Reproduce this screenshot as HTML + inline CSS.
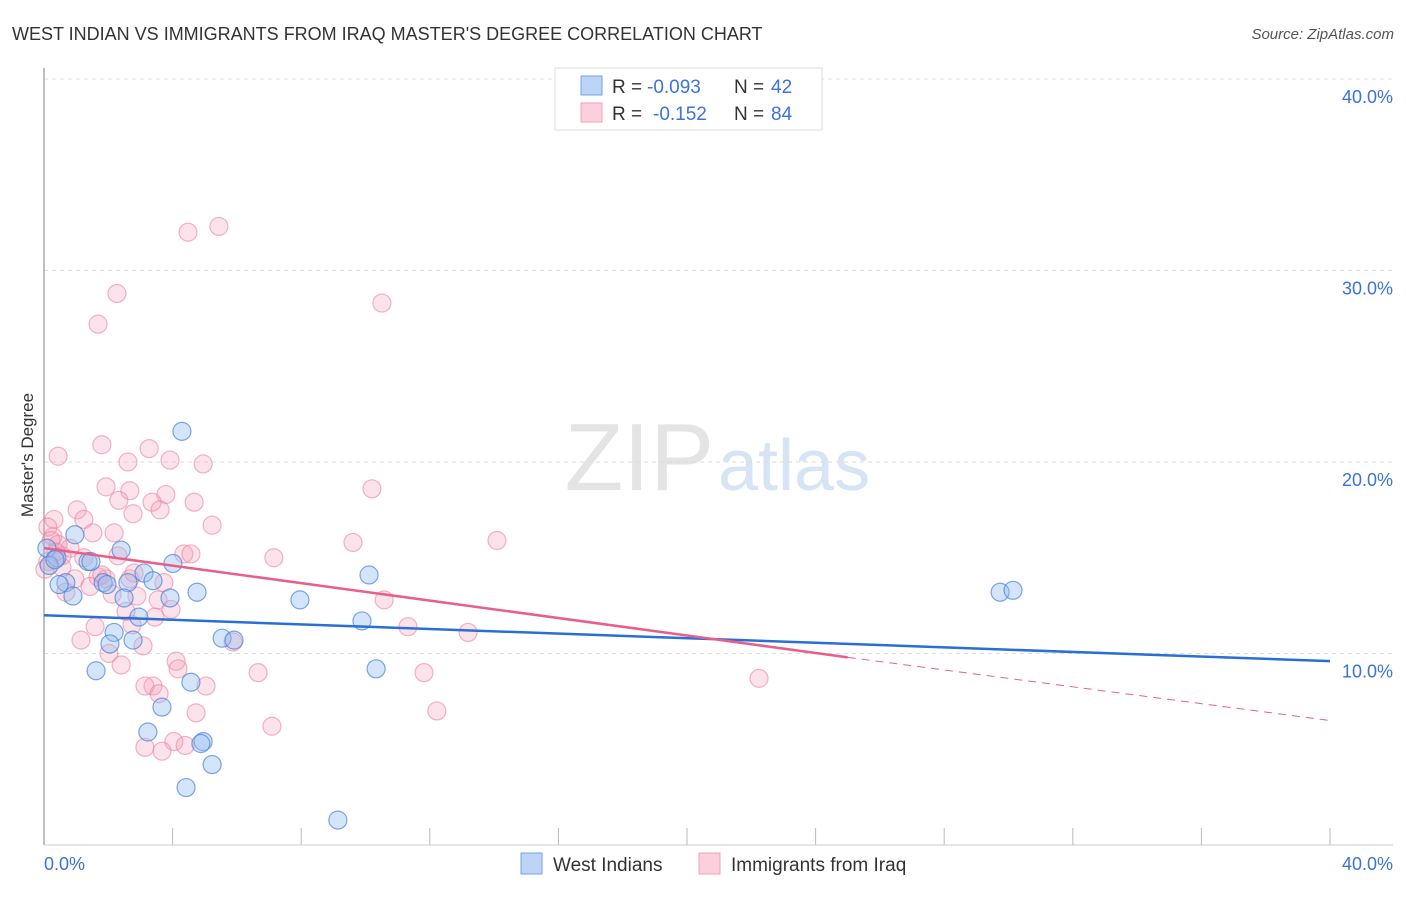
<!DOCTYPE html>
<html><head><meta charset="utf-8"><style>
body{margin:0;background:#fff;font-family:"Liberation Sans",sans-serif;}
svg text{font-family:"Liberation Sans",sans-serif;}
</style></head><body>
<svg width="1406" height="892" viewBox="0 0 1406 892">
<text x="12" y="40" font-size="18" fill="#333">WEST INDIAN VS IMMIGRANTS FROM IRAQ MASTER'S DEGREE CORRELATION CHART</text>
<text x="1394" y="39" font-size="15" fill="#555" text-anchor="end" font-style="italic">Source: ZipAtlas.com</text>
<text x="714" y="490" font-size="96" fill="#e4e4e4" text-anchor="end" font-family="Liberation Serif">ZIP</text>
<text x="718" y="490" font-size="72" fill="#d6e4f5">atlas</text>
<g id="grid"></g>
<line x1="44" y1="68" x2="44" y2="845" stroke="#aaa" stroke-width="1.5"/>
<line x1="44" y1="845" x2="1393" y2="845" stroke="#ccc" stroke-width="1"/>
<text transform="translate(33,455) rotate(-90)" font-size="17" fill="#333" text-anchor="middle">Master's Degree</text>
<text x="44" y="870" font-size="18" fill="#3b73d9">0.0%</text>
<text x="1393" y="870" font-size="18" fill="#3b73d9" text-anchor="end">40.0%</text>
<g id="marks"></g>
<g>
<rect x="555" y="68" width="267" height="62" fill="#fff" stroke="#ddd"/>
<rect x="581" y="76" width="21" height="19" fill="#bcd4f5" stroke="#7aa3e0"/>
<rect x="581" y="103" width="21" height="19" fill="#fbd0dc" stroke="#f0a0b8"/>
<text x="612" y="93" font-size="19" fill="#333">R =</text>
<text x="647" y="93" font-size="19" fill="#3b73d9">-0.093</text>
<text x="734" y="93" font-size="19" fill="#333">N =</text>
<text x="771" y="93" font-size="19" fill="#3b73d9">42</text>
<text x="612" y="120" font-size="19" fill="#333">R =</text>
<text x="653" y="120" font-size="19" fill="#3b73d9">-0.152</text>
<text x="734" y="120" font-size="19" fill="#333">N =</text>
<text x="771" y="120" font-size="19" fill="#3b73d9">84</text>
</g>
<g>
<rect x="521" y="853" width="21" height="21" fill="#bcd4f5" stroke="#7aa3e0"/>
<text x="553" y="871" font-size="19" fill="#333">West Indians</text>
<rect x="699" y="853" width="21" height="21" fill="#fbd0dc" stroke="#f0a0b8"/>
<text x="731" y="871" font-size="19" fill="#333">Immigrants from Iraq</text>
</g>
</svg>
<script>
const yTicks=[10,20,30,40];
const yTickLabels=["10.0%","20.0%","30.0%","40.0%"];
const blueX=[4.29,0.96,2.40,0.09,0.40,1.37,1.46,4.01,3.11,3.39,1.84,2.61,0.68,0.47,0.90,2.49,4.76,3.92,2.95,7.96,10.11,9.89,2.18,5.54,5.91,2.05,2.77,1.62,10.33,4.57,3.67,3.23,4.95,4.88,5.23,4.42,9.14,29.74,30.14,0.16,0.34,1.96];
const blueY=[21.6,16.2,15.4,15.5,15.0,14.8,14.8,14.7,14.2,13.8,13.7,13.7,13.7,13.6,13.0,12.9,13.2,12.9,11.9,12.8,14.1,11.7,11.1,10.8,10.7,10.5,10.7,9.1,9.2,8.5,7.2,5.9,5.4,5.3,4.2,3.0,1.3,13.2,13.3,14.6,14.9,13.6];
const pinkX=[4.48,5.44,2.27,1.68,10.51,0.44,1.80,3.27,3.92,2.61,4.95,10.20,1.93,2.67,3.79,2.33,3.36,4.67,1.03,3.61,2.77,0.31,1.24,5.23,2.18,1.52,0.12,0.28,0.44,0.81,14.09,9.61,4.35,4.57,7.15,2.30,1.24,0.56,0.12,0.03,0.56,0.96,1.68,1.93,2.67,1.80,2.80,3.73,1.43,2.12,2.89,0.68,3.55,10.58,2.55,3.45,3.95,1.59,2.74,11.32,13.19,1.15,3.08,2.02,5.88,4.11,4.17,2.40,6.66,11.82,3.39,3.14,3.58,5.04,4.73,12.22,22.24,7.09,4.04,4.39,3.14,3.67,0.22,0.37];
const pinkY=[32.0,32.3,28.8,27.2,28.3,20.3,20.9,20.7,20.1,20.0,19.9,18.6,18.7,18.5,18.3,18.0,17.9,17.9,17.5,17.5,17.3,17.0,17.0,16.7,16.3,16.3,16.6,16.1,15.7,15.5,15.9,15.8,15.2,15.2,15.0,15.1,15.0,15.1,14.8,14.4,14.5,13.9,14.0,13.9,13.9,14.1,14.2,13.7,13.5,13.1,13.0,13.2,12.8,12.8,12.2,11.9,12.3,11.4,11.5,11.4,11.1,10.7,10.4,10.0,10.6,9.6,9.2,9.4,9.0,9.0,8.3,8.3,7.9,8.3,6.9,7.0,8.7,6.2,5.4,5.2,5.1,4.9,15.9,15.3];
const blueTrend=[12.0,9.6];
const pinkTrend=[15.5,9.8,6.5];
const pinkSolidEnd=25;
const NS="http://www.w3.org/2000/svg";
const X=v=>44+v*(1286/40), Y=v=>845-v*(766/40);
function mk(t,a,p){const e=document.createElementNS(NS,t);for(const k in a)e.setAttribute(k,a[k]);p.appendChild(e);return e;}
const grid=document.getElementById('grid'), marks=document.getElementById('marks');
yTicks.forEach((t,i)=>{
 const l=mk('line',{x1:44,x2:1393,y1:Y(t),y2:Y(t),stroke:'#ddd','stroke-dasharray':'4,4'},grid);
 
 
 const tx=mk('text',{x:1393,y:Y(t)+24,'font-size':18,fill:'#3b73d9','text-anchor':'end'},grid);
 tx.textContent=yTickLabels[i];
 
 
});
for(let i=0;i<=10;i++){
 const l=mk('line',{x1:X(i*4),x2:X(i*4),y1:828,y2:845,stroke:'#bbb'},grid);
 
 
}
pinkX.forEach((x,i)=>{
 const c=mk('circle',{cx:X(x),cy:Y(pinkY[i]),r:9,fill:'rgba(245,160,185,0.3)',stroke:'rgba(235,130,160,0.6)','stroke-width':1.2},marks);
 
 
});
blueX.forEach((x,i)=>{
 const c=mk('circle',{cx:X(x),cy:Y(blueY[i]),r:9,fill:'rgba(150,190,240,0.4)',stroke:'rgba(70,130,220,0.7)','stroke-width':1.2},marks);
 
 
});
const bl=mk('line',{x1:X(0),y1:Y(blueTrend[0]),x2:X(40),y2:Y(blueTrend[1]),stroke:'#2a6fd6','stroke-width':2.5},marks);


const pl=mk('line',{x1:X(0),y1:Y(pinkTrend[0]),x2:X(pinkSolidEnd),y2:Y(pinkTrend[1]),stroke:'#e8608a','stroke-width':2.5},marks);


const pd=mk('line',{x1:X(pinkSolidEnd),y1:Y(pinkTrend[1]),x2:X(40),y2:Y(pinkTrend[2]),stroke:'#e8608a','stroke-width':1,'stroke-dasharray':'8,6'},marks);


</script>
</body></html>
